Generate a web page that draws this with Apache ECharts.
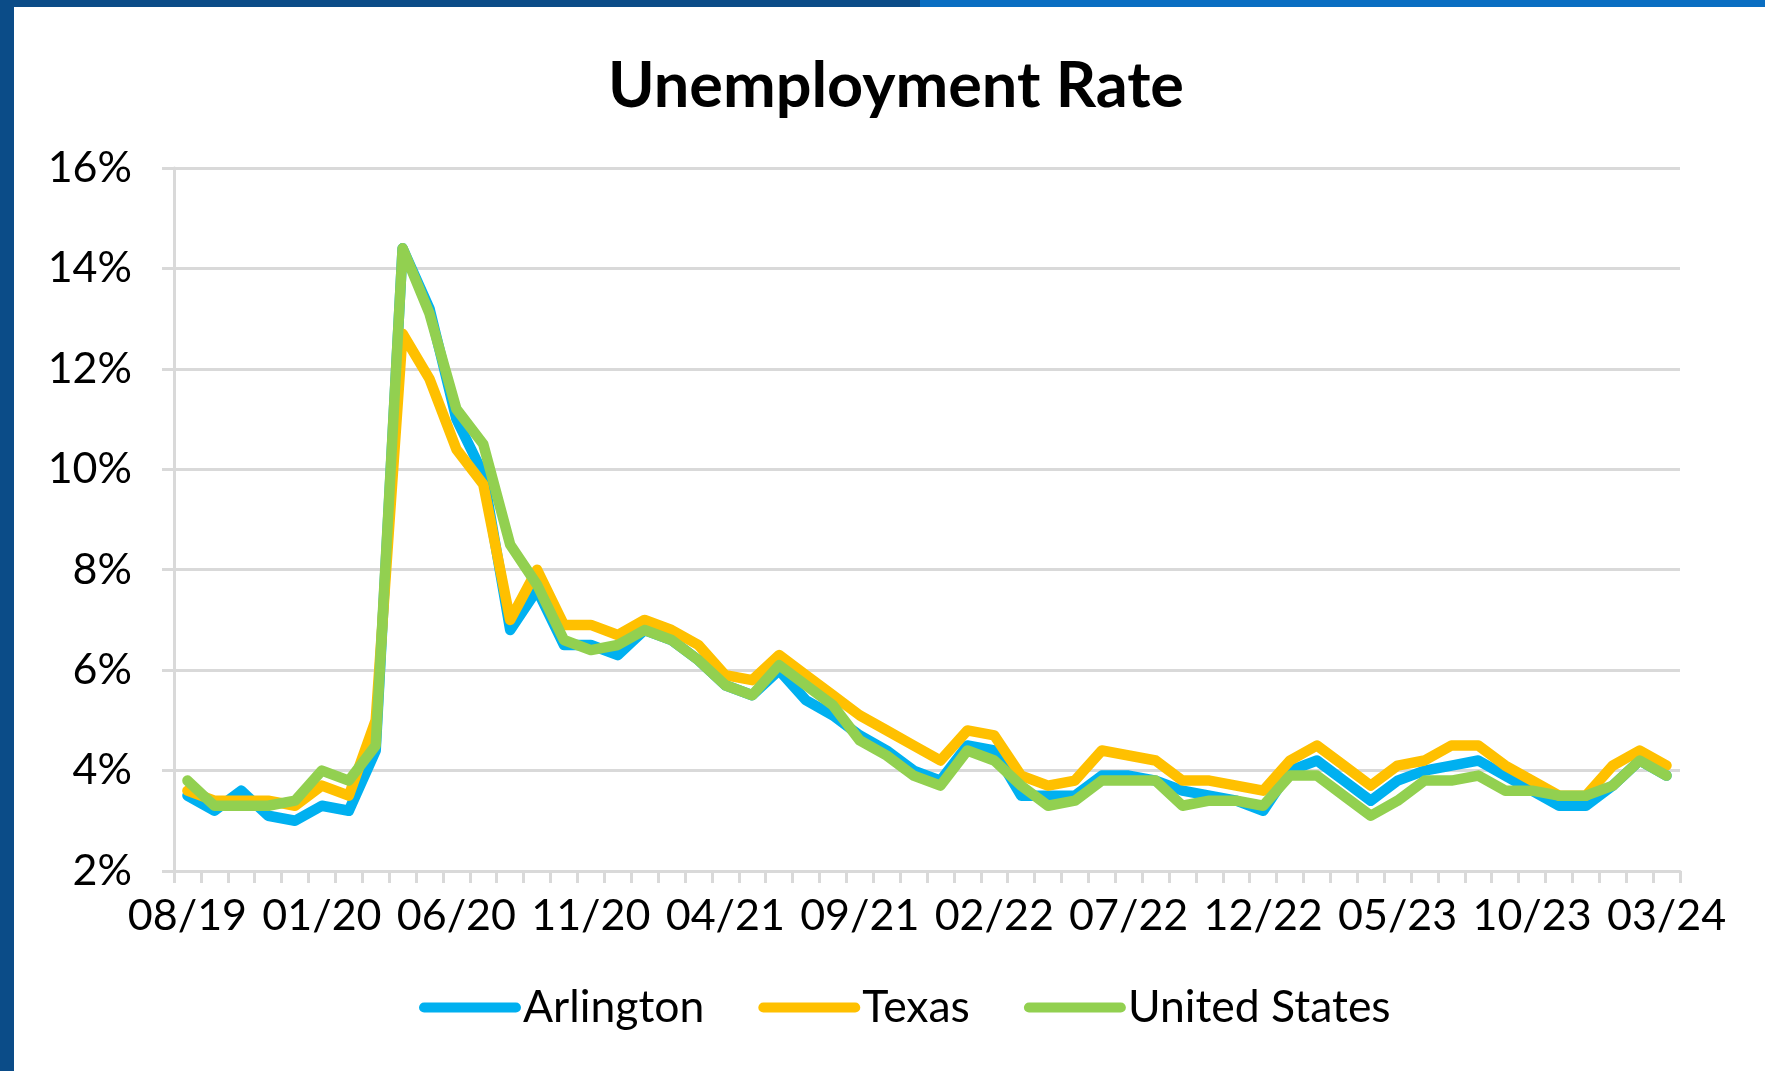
<!DOCTYPE html>
<html>
<head>
<meta charset="utf-8">
<script src="https://cdn.jsdelivr.net/npm/echarts@6/dist/echarts.min.js"></script>
<style>
html,body{margin:0;padding:0;background:#fff;}
#chart{width:1765px;height:1071px;}
</style>
</head>
<body>
<div id="chart"></div>
<script>
// Monthly categories 08/19 .. 03/24
const categories = [
  '08/19','09/19','10/19','11/19','12/19',
  '01/20','02/20','03/20','04/20','05/20','06/20','07/20','08/20','09/20','10/20','11/20','12/20',
  '01/21','02/21','03/21','04/21','05/21','06/21','07/21','08/21','09/21','10/21','11/21','12/21',
  '01/22','02/22','03/22','04/22','05/22','06/22','07/22','08/22','09/22','10/22','11/22','12/22',
  '01/23','02/23','03/23','04/23','05/23','06/23','07/23','08/23','09/23','10/23','11/23','12/23',
  '01/24','02/24','03/24'
];
const arlington = [
  3.5,3.2,3.6,3.1,3.0,3.3,3.2,4.4,
  14.4,13.2,11.0,9.9,6.8,7.6,6.5,6.5,
  6.3,6.8,6.6,6.2,5.7,5.5,6.0,5.4,
  5.1,4.7,4.4,4.0,3.8,4.5,4.4,3.5,
  3.5,3.5,3.9,3.9,3.8,3.6,3.5,3.4,
  3.2,4.0,4.2,3.8,3.4,3.8,4.0,4.1,
  4.2,3.9,3.6,3.3,3.3,3.7,4.2,3.9
];
const texas = [
  3.6,3.4,3.4,3.4,3.3,3.7,3.5,5.0,
  12.7,11.8,10.4,9.7,7.0,8.0,6.9,6.9,
  6.7,7.0,6.8,6.5,5.9,5.8,6.3,5.9,
  5.5,5.1,4.8,4.5,4.2,4.8,4.7,3.9,
  3.7,3.8,4.4,4.3,4.2,3.8,3.8,3.7,
  3.6,4.2,4.5,4.1,3.7,4.1,4.2,4.5,
  4.5,4.1,3.8,3.5,3.5,4.1,4.4,4.1
];
const unitedStates = [
  3.8,3.3,3.3,3.3,3.4,4.0,3.8,4.5,
  14.4,13.1,11.2,10.5,8.5,7.7,6.6,6.4,
  6.5,6.8,6.6,6.2,5.7,5.5,6.1,5.7,
  5.3,4.6,4.3,3.9,3.7,4.4,4.2,3.7,
  3.3,3.4,3.8,3.8,3.8,3.3,3.4,3.4,
  3.3,3.9,3.9,3.5,3.1,3.4,3.8,3.8,
  3.9,3.6,3.6,3.5,3.5,3.7,4.2,3.9
];
const seriesNames = ['Arlington','Texas','United States'];
const seriesColors = ['#00b0f0','#ffc000','#92d050'];
const yTicks = [2,4,6,8,10,12,14,16];
const titleText = 'Unemployment Rate';

const FONT = 'Lato, "Open Sans", sans-serif';
const GRID = '#d9d9d9';
const chart = echarts.init(document.getElementById('chart'), null, {renderer:'canvas'});
const capsule = 'path://M5,0 L95,0 A5,5 0 0 1 95,10 L5,10 A5,5 0 0 1 5,0 Z';
const dataSets = [arlington, texas, unitedStates];

chart.setOption({
  backgroundColor: '#ffffff',
  animation: false,
  graphic: [
    {type:'rect', left:0, top:0, shape:{width:14, height:1071}, style:{fill:'#0b4c88'}, z:100},
    {type:'rect', left:0, top:0, shape:{width:920, height:7}, style:{fill:'#0b4c88'}, z:100},
    {type:'rect', left:920, top:0, shape:{width:845, height:7}, style:{fill:'#0a6ec2'}, z:100},
    {type:'text', x:896, y:87, z:100, style:{
      text: titleText, fill:'#000', font: 'bold 63px Lato, "Open Sans", sans-serif',
      align:'center', verticalAlign:'middle', textAlign:'center', textVerticalAlign:'middle'
    }}
  ],
  legend: {
    data: seriesNames.map((n, i) => ({name: n, icon: capsule, itemStyle: {color: seriesColors[i]}})),
    left: 414,
    top: 980,
    itemWidth: 102,
    itemHeight: 11,
    itemGap: 54,
    textStyle: {fontFamily: FONT, fontSize: 44.5, color: '#000', padding: [0, 0, 0, -3]}
  },
  grid: {left: 174, right: 85, top: 168, bottom: 200, containLabel: false},
  xAxis: {
    type: 'category',
    data: categories,
    boundaryGap: true,
    axisLine: {show: true, lineStyle: {color: GRID, width: 3}},
    axisTick: {show: true, interval: 0, length: 12, lineStyle: {color: GRID, width: 3}},
    axisLabel: {interval: 4, margin: 24, fontFamily: FONT, fontSize: 43, color: '#000'},
    splitLine: {show: false}
  },
  yAxis: {
    type: 'value',
    min: yTicks[0],
    max: yTicks[yTicks.length - 1],
    interval: 2,
    axisLine: {show: true, lineStyle: {color: GRID, width: 3}},
    axisTick: {show: true, length: 12, lineStyle: {color: GRID, width: 3}},
    axisLabel: {formatter: '{value}%', margin: 42, fontFamily: FONT, fontSize: 43, color: '#000'},
    splitLine: {show: true, lineStyle: {color: GRID, width: 3}}
  },
  series: seriesNames.map((n, i) => ({
    name: n,
    type: 'line',
    data: dataSets[i],
    showSymbol: false,
    symbol: 'none',
    color: seriesColors[i],
    lineStyle: {width: 10.5, color: seriesColors[i], cap: 'round', join: 'round'},
    z: 2 + i
  }))
});
</script>
</body>
</html>
